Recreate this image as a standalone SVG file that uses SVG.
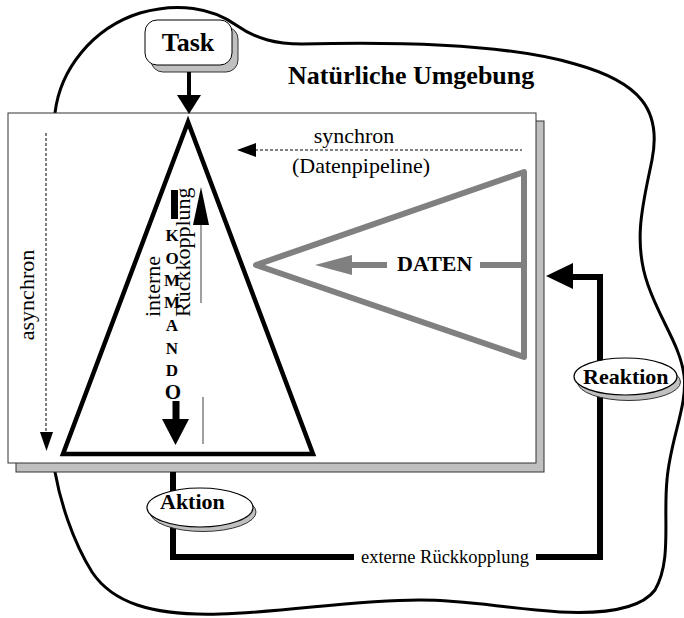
<svg xmlns="http://www.w3.org/2000/svg" width="684" height="618" viewBox="0 0 684 618">
  <style>
    .serif { font-family: "Liberation Serif", "Times New Roman", serif; fill: #000; }
    .bold { font-weight: bold; }
    .blob { fill: none; stroke: #000; stroke-width: 3; }
    .panel { fill: #fff; stroke: #333; stroke-width: 1; }
    .shadow { fill: #c0c0c0; stroke: #333; stroke-width: 1; }
    .thick { fill: none; stroke: #000; stroke-width: 6; }
    .dash { fill: none; stroke: #000; stroke-width: 1; stroke-dasharray: 3 2; }
    .grayline { fill: none; stroke: #808080; stroke-width: 6; stroke-linejoin: round; }
    .thin-gray { fill: none; stroke: #808080; stroke-width: 1.5; }
    .head { fill: #000; stroke: none; }
    .grayhead { fill: #808080; stroke: none; }
  </style>

  <!-- surrounding environment outline -->
  <g id="environment">
    <path class="blob" d="M 55 113
      C 60 70, 92 28, 140 13
      C 178 2, 212 8, 236 25
      C 256 39, 276 44, 302 44
      C 380 42, 500 42, 575 64
      C 640 82, 662 110, 652 160
      C 644 200, 632 240, 648 285
      C 660 320, 680 345, 684 375
      C 688 405, 670 440, 667 480
      C 663 520, 672 560, 655 590
      C 640 610, 600 614, 560 612
      C 500 608, 470 600, 420 600
      C 350 600, 290 612, 220 614
      C 150 616, 112 602, 92 572
      C 72 540, 60 500, 55 472 Z"/>
    <text class="serif bold" x="288" y="84" font-size="26">Natürliche Umgebung</text>
  </g>

  <!-- main panel with drop shadow -->
  <g id="panel">
    <rect class="shadow" x="16" y="121" width="528" height="351"/>
    <rect class="panel" x="8" y="113" width="528" height="350"/>
  </g>

  <!-- command triangle -->
  <g id="kommando">
    <polygon points="188,122 63,454 313,454" fill="none" stroke="#000" stroke-width="4.5"/>
    <rect x="171" y="190" width="7" height="29" fill="#000"/>
    <g class="serif bold" font-size="17" text-anchor="middle">
      <text x="172" y="241">K</text>
      <text x="172" y="264">O</text>
      <text x="172" y="286">M</text>
      <text x="172" y="308">M</text>
      <text x="172" y="331">A</text>
      <text x="172" y="354">N</text>
      <text x="172" y="376">D</text>
      <text x="173" y="399" font-size="21">O</text>
    </g>
    <line x1="176" y1="401" x2="176" y2="421" stroke="#000" stroke-width="7"/>
    <polygon class="head" points="162,419 189,419 175.5,445"/>
  </g>

  <!-- data triangle -->
  <g id="daten">
    <polygon class="grayline" points="256,265 524,172 524,357"/>
    <line class="grayline" x1="524" y1="265" x2="480" y2="265"/>
    <line class="grayline" x1="387" y1="265" x2="350" y2="265"/>
    <polygon class="grayhead" points="315,265 352,255 352,275"/>
    <text class="serif bold" x="397" y="271" font-size="22">DATEN</text>
  </g>

  <!-- task -->
  <g id="task">
    <rect class="shadow" x="151" y="27" width="87" height="45" rx="12"/>
    <rect x="145" y="20" width="87" height="45" rx="12" fill="#fff" stroke="#000" stroke-width="1"/>
    <text class="serif bold" x="188" y="51" font-size="26" text-anchor="middle">Task</text>
  </g>

  <!-- connectors -->
  <g id="connectors">
    <!-- task into the panel -->
    <line x1="189" y1="72" x2="189" y2="97" stroke="#000" stroke-width="4"/>
    <polygon class="head" points="177,95 201,95 189,114"/>

    <!-- synchronous data pipeline -->
    <line class="dash" x1="255" y1="150" x2="522" y2="150"/>
    <polygon class="head" points="237,150 256,143 256,157"/>
    <text class="serif" x="354" y="143" font-size="22" text-anchor="middle">synchron</text>
    <text class="serif" x="361" y="173" font-size="22" text-anchor="middle">(Datenpipeline)</text>

    <!-- asynchronous path -->
    <line class="dash" x1="46" y1="133" x2="46" y2="433"/>
    <polygon class="head" points="40,432 53,432 46.5,451"/>
    <text class="serif" font-size="22" text-anchor="middle" transform="translate(34,295) rotate(-90)">asynchron</text>

    <!-- internal feedback -->
    <line class="thin-gray" x1="201" y1="224" x2="201" y2="303"/>
    <polygon class="head" points="193,225 209,225 201,187"/>
    <line class="thin-gray" x1="203" y1="397" x2="203" y2="444"/>
    <text class="serif" font-size="22" transform="translate(160,317) rotate(-90)">interne</text>
    <text class="serif" font-size="22" transform="translate(190,317) rotate(-90)">Rückkopplung</text>

    <!-- external feedback loop -->
    <polyline class="thick" points="173,472 173,557 354,557"/>
    <polyline class="thick" points="536,557 600,557 600,277 571,277" stroke-linejoin="miter"/>
    <polygon class="head" points="546,276 573,263 573,289"/>
    <text class="serif" x="361" y="563" font-size="18.5">externe Rückkopplung</text>
  </g>

  <!-- action -->
  <g id="aktion">
    <ellipse class="shadow" cx="203" cy="512" rx="53" ry="19.5"/>
    <ellipse cx="200" cy="507.5" rx="53" ry="19.5" fill="#fff" stroke="#000" stroke-width="1.2"/>
    <text class="serif bold" x="160" y="509" font-size="22">Aktion</text>
  </g>

  <!-- reaction -->
  <g id="reaktion">
    <ellipse class="shadow" cx="629" cy="382" rx="51.5" ry="18.5"/>
    <ellipse cx="625.5" cy="376.5" rx="51.5" ry="18.5" fill="#fff" stroke="#000" stroke-width="1.2"/>
    <text class="serif bold" x="583" y="384" font-size="22">Reaktion</text>
  </g>
</svg>
